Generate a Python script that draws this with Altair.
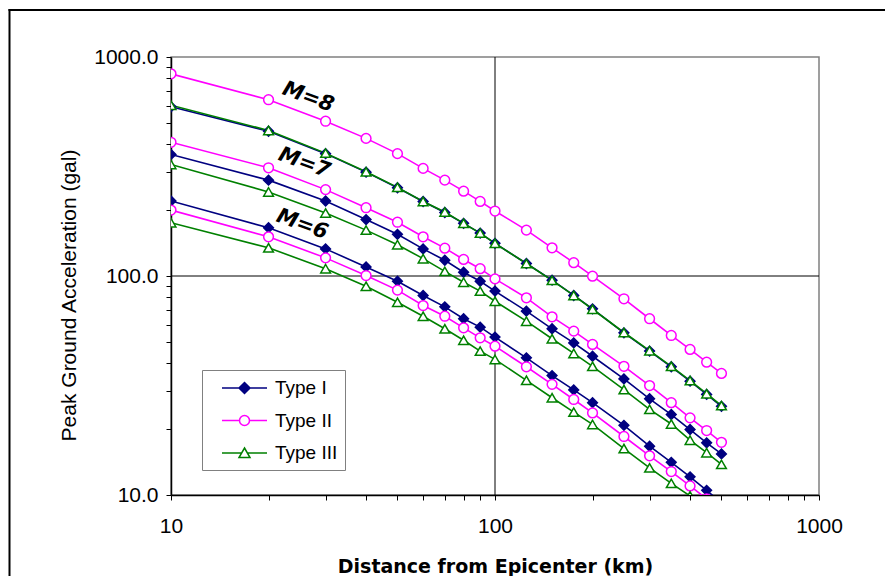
import altair as alt
import pandas as pd

# ---------------- data ----------------
distance = [10, 20, 30, 40, 50, 60, 70, 80, 90, 100, 125, 150, 175, 200, 250, 300, 350, 400, 450, 500]
types = ["Type I", "Type II", "Type III"]
type_colors = ["#000080", "#FF00FF", "#008000"]
type_fills = ["#000080", "#FFFFFF", "#FFFFFF"]
type_shapes = ["diamond", "circle", "triangle-up"]

m8_type1 = [593, 458, 362, 298, 253, 219, 195, 174, 157, 141, 114, 95.7, 81.5, 70.8, 55.0, 45.4, 38.5, 33.1, 28.8, 25.4]
m8_type2 = [838, 638, 509, 425, 362, 310, 274, 244, 219, 198, 162, 134.5, 115, 99.8, 78.7, 63.8, 53.5, 46.2, 40.4, 35.9]
m8_type3 = [602, 462, 364, 299, 254, 219, 196, 174, 157, 141, 114, 95.5, 81.5, 70.5, 55.2, 45.6, 38.7, 33.3, 29.0, 25.6]

m7_type1 = [359, 274, 220, 181, 155, 133, 118, 104, 94.6, 85.3, 69.1, 57.4, 49.5, 43.0, 33.9, 27.5, 23.3, 19.9, 17.3, 15.4]
m7_type2 = [408, 312, 248, 205, 176, 151, 134, 119, 108, 97, 79.5, 65.1, 56.0, 48.7, 38.7, 31.6, 26.4, 22.5, 19.7, 17.4]
m7_type3 = [323, 242, 194, 162, 139, 120, 105, 93.7, 85.3, 76.7, 62.2, 51.7, 44.3, 38.7, 30.3, 24.6, 21.1, 17.8, 15.6, 13.8]

m6_type1 = [220, 166, 133, 110, 94.7, 81.5, 72.3, 63.8, 58.4, 52.6, 42.3, 35.1, 30.2, 26.4, 20.8, 16.7, 14.1, 12.1, 10.5, 9.2]
m6_type2 = [200, 151, 121, 100.5, 86.2, 73.3, 65.5, 58.0, 52.2, 47.8, 38.5, 32.0, 27.3, 23.7, 18.5, 15.1, 12.8, 11.0, 9.6, 8.5]
m6_type3 = [175, 134.5, 108, 89.8, 75.9, 65.5, 57.4, 50.9, 45.4, 41.6, 33.4, 27.8, 23.9, 21.0, 16.3, 13.3, 11.3, 9.9, 8.7, 7.7]

# magnitude annotations (data coordinates)
mlab_text = ["M=8", "M=7", "M=6"]
mlab_x = [26.5, 25.8, 25.4]
mlab_y = [655, 328, 172]

x_ticks = [10, 20, 30, 40, 50, 60, 70, 80, 90, 100, 200, 300, 400, 500, 600, 700, 800, 900, 1000]
y_ticks = [10, 20, 30, 40, 50, 60, 70, 80, 90, 100, 200, 300, 400, 500, 600, 700, 800, 900, 1000]
grid_x = [100]
grid_y = [100]

series = {
    ("M=8", "Type I"): m8_type1, ("M=8", "Type II"): m8_type2, ("M=8", "Type III"): m8_type3,
    ("M=7", "Type I"): m7_type1, ("M=7", "Type II"): m7_type2, ("M=7", "Type III"): m7_type3,
    ("M=6", "Type I"): m6_type1, ("M=6", "Type II"): m6_type2, ("M=6", "Type III"): m6_type3,
}
rows = []
for (m, t), vals in series.items():
    for d, v in zip(distance, vals):
        rows.append({"M": m, "Type": t, "Distance": d, "PGA": v})
df = pd.DataFrame(rows)

# ---------------- scales / axes ----------------
FONT = "Liberation Sans"
xscale = alt.Scale(type="log", domain=[10, 1000], nice=False)
yscale = alt.Scale(type="log", domain=[10, 1000], nice=False)

major = "(datum.value == 10 || datum.value == 100 || datum.value == 1000)"
x_axis = alt.Axis(
    values=x_ticks, labelExpr=f"{major} ? format(datum.value, 'd') : ''",
    title="Distance from Epicenter (km)", titleFont="DejaVu Sans", titleFontWeight="bold",
    titleFontSize=19, titleColor="black", titlePadding=21,
    labelFont=FONT, labelFontSize=21, labelColor="black", labelPadding=15,
    labelFlush=False, labelOverlap=False, grid=False,
    tickSize=5, tickColor="black", domainColor="black", domainWidth=1.5,
)
y_axis = alt.Axis(
    values=y_ticks, labelExpr=f"{major} ? format(datum.value, '.1f') : ''",
    title="Peak Ground Acceleration (gal)", titleFont=FONT, titleFontWeight="normal",
    titleFontSize=21, titleColor="black", titlePadding=14, titleY=238,
    labelFont=FONT, labelFontSize=21, labelColor="black", labelPadding=8,
    labelFlush=False, labelOverlap=False, grid=False,
    tickSize=5, tickColor="black", domainColor="black", domainWidth=1.5,
)

X = alt.X("Distance:Q", scale=xscale, axis=x_axis)
Y = alt.Y("PGA:Q", scale=yscale, axis=y_axis)

# ---------------- legend symbols (line + marker) ----------------
legend_shapes = [
    "M-2.25,0L2.25,0M0,-0.55L0.55,0L0,0.55L-0.55,0Z",
    "M-2.25,0L-0.5,0M0.5,0L2.25,0M-0.5,0A0.5,0.5,0,1,1,0.5,0A0.5,0.5,0,1,1,-0.5,0Z",
    "M-2.25,0L-0.29,0M0.29,0L2.25,0M0,-0.5L0.55,0.45L-0.55,0.45Z",
]

legend = alt.Legend(
    title=None, orient="none", legendX=31, legendY=313,
    padding=7, rowPadding=11.5, symbolSize=400, symbolStrokeWidth=1.5,
    symbolOffset=24.5, labelOffset=19.5,
    labelFont=FONT, labelFontSize=19, labelColor="black",
    labelExpr="datum.label + '\u00a0\u00a0\u00a0'",
    strokeColor="#808080", fillColor="white",
)

# ---------------- layers ----------------
# outer chart frame (left and top edges only are inside the picture), drawn as thin filled bars
frame_left = alt.Chart(pd.DataFrame({"a": [0]})).mark_rect(color="black", strokeWidth=0).encode(
    x=alt.value(-162.5), x2=alt.value(-160.5), y=alt.value(-48), y2=alt.value(560))
frame_top = alt.Chart(pd.DataFrame({"a": [0]})).mark_rect(color="black", strokeWidth=0).encode(
    x=alt.value(-162.5), x2=alt.value(714), y=alt.value(-48), y2=alt.value(-46))

vgrid = alt.Chart(pd.DataFrame({"Distance": grid_x})).mark_rule(color="black", strokeWidth=1).encode(x=X)
hgrid = alt.Chart(pd.DataFrame({"PGA": grid_y})).mark_rule(color="black", strokeWidth=1).encode(y=Y)

lines = alt.Chart(df).mark_line(strokeWidth=1.6, clip=True).encode(
    x=X, y=Y,
    color=alt.Color("Type:N", scale=alt.Scale(domain=types, range=type_colors), legend=None),
    detail="M:N",
)

points = alt.Chart(df).mark_point(size=95, strokeWidth=1.5, opacity=1, clip=True).encode(
    x=X, y=Y,
    shape=alt.Shape("Type:N", scale=alt.Scale(domain=types, range=type_shapes), legend=None),
    fill=alt.Fill("Type:N", scale=alt.Scale(domain=types, range=type_fills), legend=None),
    stroke=alt.Stroke("Type:N", scale=alt.Scale(domain=types, range=type_colors), legend=None),
)

# legend-only layer: one entry per type, placed outside the domain and clipped away
legend_df = pd.DataFrame({"Type": types, "Distance": [1, 1, 1], "PGA": [1, 1, 1]})
legend_layer = alt.Chart(legend_df).mark_point(size=400, strokeWidth=1.5, opacity=1, clip=True).encode(
    x=X, y=Y,
    shape=alt.Shape("Type:N", scale=alt.Scale(domain=types, range=legend_shapes), legend=legend),
    fill=alt.Fill("Type:N", scale=alt.Scale(domain=types, range=type_fills), legend=legend),
    stroke=alt.Stroke("Type:N", scale=alt.Scale(domain=types, range=type_colors), legend=legend),
)

mlabels = alt.Chart(pd.DataFrame({"txt": mlab_text, "Distance": mlab_x, "PGA": mlab_y})).mark_text(
    font="DejaVu Sans", fontWeight="bold", fontStyle="italic", fontSize=21, angle=20,
    color="black", align="center", baseline="middle"
).encode(x=X, y=Y, text="txt:N")

chart = alt.layer(frame_left, frame_top, vgrid, hgrid, lines, points, mlabels, legend_layer).resolve_scale(
    shape="independent", fill="independent", stroke="independent"
).properties(
    width=648, height=438,
    autosize=alt.AutoSizeParams(type="none"),
    padding={"left": 163, "top": 49, "right": 66, "bottom": 81},
    background="white",
).configure_view(stroke="#808080", strokeWidth=1.5)

chart.save("out.html", embed_options={"renderer": "svg", "actions": False})
